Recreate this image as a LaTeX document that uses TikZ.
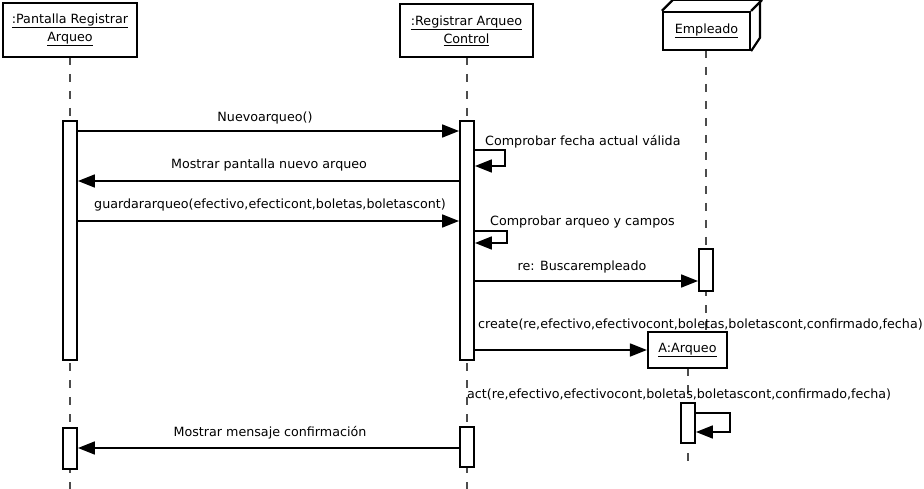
\documentclass[tikz,border=0pt]{standalone}
\usepackage{fontspec}
\setmainfont{DejaVu Sans}
\usetikzlibrary{arrows.meta,positioning}

\begin{document}
\begin{tikzpicture}[x=1pt,y=-1pt,
  every node/.style={font=\fontsize{12.7}{18}\selectfont},
  objbox/.style={draw=black,line width=2.2pt,fill=white,align=center,inner sep=0pt},
  actbox/.style={draw=black,line width=1.9pt,fill=white,minimum width=14pt,inner sep=0pt},
  lifeline/.style={draw=black!70,line width=1.1pt,dash pattern=on 8pt off 9pt},
  msg/.style={line width=1.7pt,-{Triangle[length=17pt,width=13pt]}},
  lbl/.style={inner sep=0pt}]
\useasboundingbox (0,0) rectangle (924,489);
\coordinate (bottom) at (0,489);
% message heights
\coordinate (m1) at (0,131);
\coordinate (m2) at (0,150);
\coordinate (m3) at (0,181);
\coordinate (m4) at (0,221);
\coordinate (m5) at (0,231);
\coordinate (m6) at (0,281);
\coordinate (m7) at (0,350);
\coordinate (m8) at (0,413);
\coordinate (m9) at (0,448);

% lifelines
\draw[lifeline] (70,57) -- (70,489);
\draw[lifeline] (467,57) -- (467,489);
\draw[lifeline] (706,50) -- (706,332);
\draw[lifeline] (688,368) -- (688,465);

% objects
\node[objbox,minimum width=134pt,minimum height=54pt] (pantalla) at (70,30)
  {\underline{:Pantalla Registrar}\\\underline{Arqueo}};
\node[objbox,minimum width=133pt,minimum height=53pt] (control) at (466.5,30.5)
  {\underline{:Registrar Arqueo}\\\underline{Control}};
\node[objbox,minimum width=87pt,minimum height=38pt] (empleado) at (706.5,31)
  {\underline{Empleado}};
\draw[line width=2.2pt,line join=round] (empleado.north west) -- ++(11,-11) -- ++(87,0)
  -- ++(0,38) -- (empleado.south east);
\draw[line width=2.2pt] (empleado.north east) -- ++(11,-11);
\node[objbox,minimum width=79pt,minimum height=36pt] (arqueo) at (687.5,350)
  {\underline{A:Arqueo}};

% activations
\node[actbox,minimum height=239pt] (pact1) at (70,240.5) {};
\node[actbox,minimum height=41pt] (pact2) at (70,448.5) {};
\node[actbox,minimum height=239pt] (cact1) at (467,240.5) {};
\node[actbox,minimum height=40pt] (cact2) at (467,447) {};
\node[actbox,minimum height=42pt] (eact) at (706,270) {};
\node[actbox,minimum height=40pt] (aact) at (688,423) {};

% messages
\draw[msg] (pact1.east |- m1) -- (cact1.west |- m1);
\draw[msg] (cact1.east |- m2) -- ++(30,0) -- ++(0,16) -- ++(-30,0);
\draw[msg] (cact1.west |- m3) -- (pact1.east |- m3);
\draw[msg] (pact1.east |- m4) -- (cact1.west |- m4);
\draw[msg] (cact1.east |- m5) -- ++(32,0) -- ++(0,12) -- ++(-32,0);
\draw[msg] (cact1.east |- m6) -- (eact.west |- m6);
\draw[msg] (cact1.east |- m7) -- (arqueo.west |- m7);
\draw[msg] (aact.east |- m8) -- ++(34,0) -- ++(0,19) -- ++(-34,0);
\draw[msg] (cact2.west |- m9) -- (pact2.east |- m9);

% labels
\node[lbl] (l1) at (265,118) {Nuevoarqueo()};
\node[lbl,anchor=west] (l2) at (485,142) {Comprobar fecha actual válida};
\node[lbl] (l3) at (269,165) {Mostrar pantalla nuevo arqueo};
\node[lbl] (l4) at (270,205) {guardararqueo(efectivo,efecticont,boletas,boletascont)};
\node[lbl,anchor=west] (l5) at (490,222) {Comprobar arqueo y campos};
\node[lbl] (l6) at (582,267) {re: Buscarempleado};
\node[lbl,anchor=west] (l7) at (478,325) {create(re,efectivo,efectivocont,boletas,boletascont,confirmado,fecha)};
\node[lbl,anchor=west] (l8) at (467,395) {act(re,efectivo,efectivocont,boletas,boletascont,confirmado,fecha)};
\node[lbl] (l9) at (270,433) {Mostrar mensaje confirmación};
\end{tikzpicture}
\end{document}
